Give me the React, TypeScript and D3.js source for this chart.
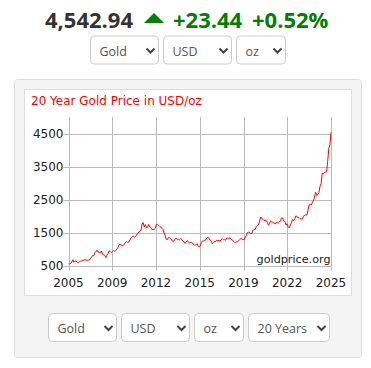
import React from 'react'
import * as d3 from 'd3'

// monthly gold price, USD/oz, Jan 2006 .. Dec 2025
const prices2006 = [549, 555, 557, 610, 676, 596, 633, 632, 598, 585, 627, 629]
const prices2007 = [631, 665, 654, 679, 667, 655, 665, 665, 712, 754, 806, 803]
const prices2008 = [889, 922, 968, 909, 888, 889, 939, 839, 829, 806, 740, 816]
const prices2009 = [858, 943, 924, 890, 928, 945, 934, 949, 996, 1043, 1127, 1134]
const prices2010 = [1118, 1095, 1113, 1148, 1205, 1232, 1193, 1215, 1271, 1343, 1370, 1391]
const prices2011 = [1356, 1372, 1424, 1473, 1510, 1529, 1572, 1756, 1800, 1665, 1739, 1652]
const prices2012 = [1656, 1743, 1674, 1650, 1585, 1596, 1594, 1626, 1744, 1747, 1721, 1684]
const prices2013 = [1671, 1627, 1593, 1487, 1414, 1290, 1286, 1347, 1349, 1316, 1275, 1225]
const prices2014 = [1244, 1300, 1336, 1299, 1287, 1279, 1311, 1296, 1239, 1222, 1176, 1200]
const prices2015 = [1251, 1227, 1179, 1198, 1199, 1181, 1128, 1117, 1125, 1159, 1086, 1068]
const prices2016 = [1097, 1199, 1245, 1242, 1260, 1276, 1337, 1341, 1326, 1266, 1238, 1157]
const prices2017 = [1192, 1234, 1231, 1266, 1246, 1260, 1236, 1283, 1314, 1280, 1282, 1265]
const prices2018 = [1331, 1331, 1325, 1335, 1303, 1282, 1238, 1202, 1198, 1215, 1221, 1250]
const prices2019 = [1291, 1320, 1300, 1286, 1284, 1359, 1413, 1500, 1510, 1495, 1471, 1480]
const prices2020 = [1560, 1597, 1591, 1683, 1716, 1732, 1846, 1968, 1921, 1900, 1866, 1858]
const prices2021 = [1867, 1808, 1718, 1760, 1850, 1834, 1807, 1785, 1775, 1777, 1821, 1790]
const prices2022 = [1817, 1856, 1948, 1937, 1848, 1837, 1732, 1764, 1681, 1640, 1726, 1798]
const prices2023 = [1898, 1855, 1912, 2000, 1991, 1943, 1951, 1918, 1916, 1916, 1985, 2030]
const prices2024 = [2033, 2023, 2160, 2330, 2350, 2330, 2400, 2470, 2570, 2720, 2620, 2650]
const prices2025 = [2710, 2900, 2980, 3300, 3280, 3320, 3330, 3340, 3660, 4050, 4150, 4530]

const prices = [
  ...prices2006, ...prices2007, ...prices2008, ...prices2009, ...prices2010,
  ...prices2011, ...prices2012, ...prices2013, ...prices2014, ...prices2015,
  ...prices2016, ...prices2017, ...prices2018, ...prices2019, ...prices2020,
  ...prices2021, ...prices2022, ...prices2023, ...prices2024, ...prices2025,
]

const xLabels = ['2005', '2009', '2012', '2015', '2019', '2022', '2025']
const yTicks = [500, 1500, 2500, 3500, 4500]

const topSelects = [
  { label: 'Gold', x: 90.5, w: 68 },
  { label: 'USD', x: 163.5, w: 68 },
  { label: 'oz', x: 236.5, w: 49 },
]
const bottomSelects = [
  { label: 'Gold', x: 48.5, w: 68 },
  { label: 'USD', x: 121.5, w: 68 },
  { label: 'oz', x: 194.5, w: 49 },
  { label: '20 Years', x: 248.5, w: 81 },
]

const grid = '#bbbbbb'
const tickFont = 'DejaVu Sans, Verdana, sans-serif'

const Select = ({ label, x, w, y }: { label: string; x: number; w: number; y: number }) => {
  const cx = x + w - 8
  const cy = y + 14.5
  return (
    <g>
      <rect x={x} y={y} width={w} height={28} rx={4} fill="#fff" stroke="#cccccc" />
      <text x={x + 9} y={y + 19.5} fontFamily="Open Sans, sans-serif" fontSize={12.5} fill="#555">
        {label}
      </text>
      <path
        d={`M${cx - 4},${cy - 2} L${cx},${cy + 2} L${cx + 4},${cy - 2}`}
        fill="none"
        stroke="#444"
        strokeWidth={2}
      />
    </g>
  )
}

export default function App() {
  const left = 68.5
  const right = 331
  const top = 117
  const bottom = 265.5

  const x = d3.scaleLinear().domain([0, prices.length - 1]).range([left, right])
  const xTick = d3.scalePoint<string>().domain(xLabels).range([left, right])
  const y = d3.scaleLinear().domain([500, 5000]).range([bottom, top])

  const line = d3
    .line<number>()
    .x((_, i) => x(i))
    .y((d) => y(d))

  return (
    <svg width={371} height={368} style={{ position: 'absolute', left: 0, top: 0 }}>
      <rect width={371} height={368} fill="#fff" />

      {/* headline */}
      <text x={45} y={28} fontFamily="Open Sans, sans-serif" fontWeight="bold" fontSize={22} fill="#333">
        4,542.94
      </text>
      <path d="M144,23 L164,23 L154,13 Z" fill="#008000" />
      <text x={173} y={28} fontFamily="Open Sans, sans-serif" fontWeight="bold" fontSize={22} fill="#008000">
        +23.44
      </text>
      <text x={252} y={28} fontFamily="Open Sans, sans-serif" fontWeight="bold" fontSize={22} fill="#008000">
        +0.52%
      </text>

      {topSelects.map((s) => (
        <Select key={`t-${s.label}`} {...s} y={36} />
      ))}

      {/* panel */}
      <rect x={14.5} y={79.5} width={347} height={278} rx={3} fill="#f4f4f4" stroke="#dddddd" />
      <rect x={24.5} y={89.5} width={327} height={206} fill="#fff" stroke="#dddddd" />

      <text x={31} y={105} fontFamily={tickFont} fontSize={12} fill="#ff0000">
        20 Year Gold Price in USD/oz
      </text>

      {/* grid */}
      {xLabels.map((l) => (
        <g key={`x-${l}`}>
          <line x1={Math.round(xTick(l)!) + 0.5} x2={Math.round(xTick(l)!) + 0.5} y1={top} y2={bottom + 5} stroke={grid} />
          <text x={xTick(l)} y={287} textAnchor="middle" fontFamily={tickFont} fontSize={12} fill="#222">
            {l}
          </text>
        </g>
      ))}
      {yTicks.map((t) => (
        <g key={`y-${t}`}>
          <line x1={left - 5} x2={right + 0.5} y1={Math.round(y(t)) + 0.5} y2={Math.round(y(t)) + 0.5} stroke={grid} />
          <text x={63.5} y={y(t) + 4.3} textAnchor="end" fontFamily={tickFont} fontSize={12} fill="#222">
            {t}
          </text>
        </g>
      ))}

      <path d={line(prices) ?? ''} fill="none" stroke="#ff0000" strokeWidth={1} />

      <text x={330.5} y={263} textAnchor="end" fontFamily={tickFont} fontSize={11.2} fill="#222">
        goldprice.org
      </text>

      {bottomSelects.map((s) => (
        <Select key={`b-${s.label}`} {...s} y={313.5} />
      ))}
    </svg>
  )
}
